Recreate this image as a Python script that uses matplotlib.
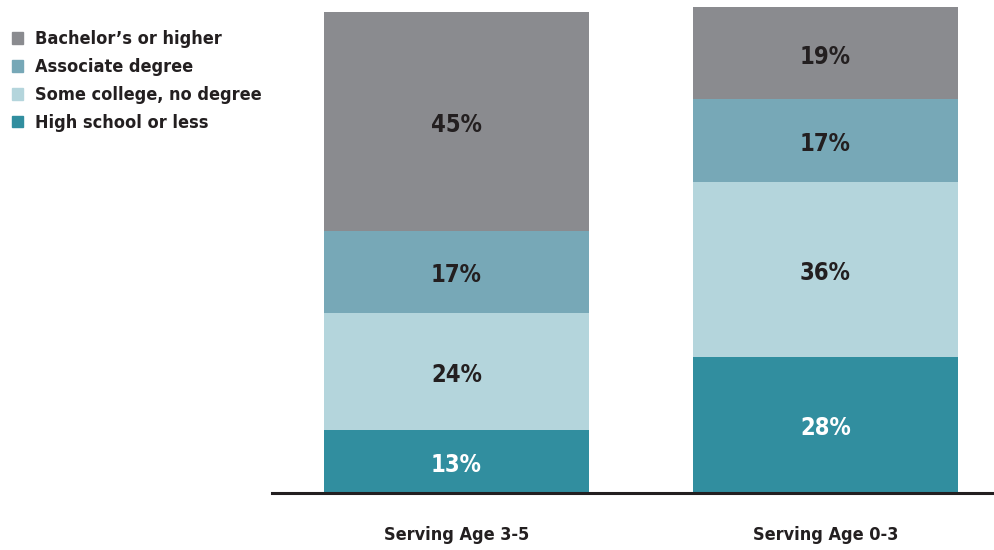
import matplotlib
matplotlib.use("Agg")
import matplotlib.pyplot as plt
from matplotlib import font_manager
from matplotlib.patches import Patch

# data
groups = ["Serving Age 3-5", "Serving Age 0-3"]
levels = ["High school or less", "Some college, no degree", "Associate degree", "Bachelor\u2019s or higher"]
high_school = [13, 28]
some_college = [24, 36]
associate = [17, 17]
bachelor = [45, 19]
series = [high_school, some_college, associate, bachelor]

colors = ["#318e9f", "#b4d5dc", "#77a8b7", "#8a8b8f"]
label_colors = ["white", "#231f20", "#231f20", "#231f20"]
dark = "#231f20"

# pick a narrow font if one is around
names = {f.name for f in font_manager.fontManager.ttflist}
stretches = {(f.name, f.stretch) for f in font_manager.fontManager.ttflist}
font = {"family": "DejaVu Sans", "stretch": "normal"}
if "Liberation Sans Narrow" in names:
    font = {"family": "Liberation Sans Narrow", "stretch": "normal"}
elif ("DejaVu Sans", "condensed") in stretches or ("DejaVu Sans", 75) in stretches:
    font = {"family": "DejaVu Sans", "stretch": "condensed"}

fig = plt.figure(figsize=(9.95, 5.5), dpi=100)
ax = fig.add_axes([0.2734, 0.1036, 0.7266, 0.8836])

x = [0, 1]
bottom = [0, 0]
for vals, c, tc in zip(series, colors, label_colors):
    ax.bar(x, vals, width=0.72, bottom=bottom, color=c, edgecolor="none")
    for i in range(len(x)):
        # labels sit a touch below the segment middle in the original
        ax.text(x[i], bottom[i] + vals[i] / 2 - 0.7, f"{vals[i]}%", ha="center", va="center",
                color=tc, fontsize=17, fontweight="bold", **font)
    bottom = [b + v for b, v in zip(bottom, vals)]

ax.set_xlim(-0.5, 1.46)
ax.set_ylim(0, 100)
for s in ["top", "right", "left"]:
    ax.spines[s].set_visible(False)
ax.spines["bottom"].set_linewidth(2.2)
ax.spines["bottom"].set_color(dark)
ax.set_yticks([])
ax.set_xticks(x)
ax.set_xticklabels(groups, fontsize=13, fontweight="bold", color=dark, **font)
ax.tick_params(axis="x", length=0, pad=24)

handles = [Patch(color=c, label=l) for c, l in zip(colors, levels)][::-1]
fig.legend(handles=handles, loc="upper left", bbox_to_anchor=(0.0045, 0.958), frameon=False,
           borderaxespad=0, handlelength=0.6, handleheight=0.6, handletextpad=0.7,
           labelspacing=0.55,
           prop={"size": 13, "weight": "bold", "family": font["family"], "stretch": font["stretch"]},
           labelcolor=dark)

fig.savefig("out.png", dpi=100)
